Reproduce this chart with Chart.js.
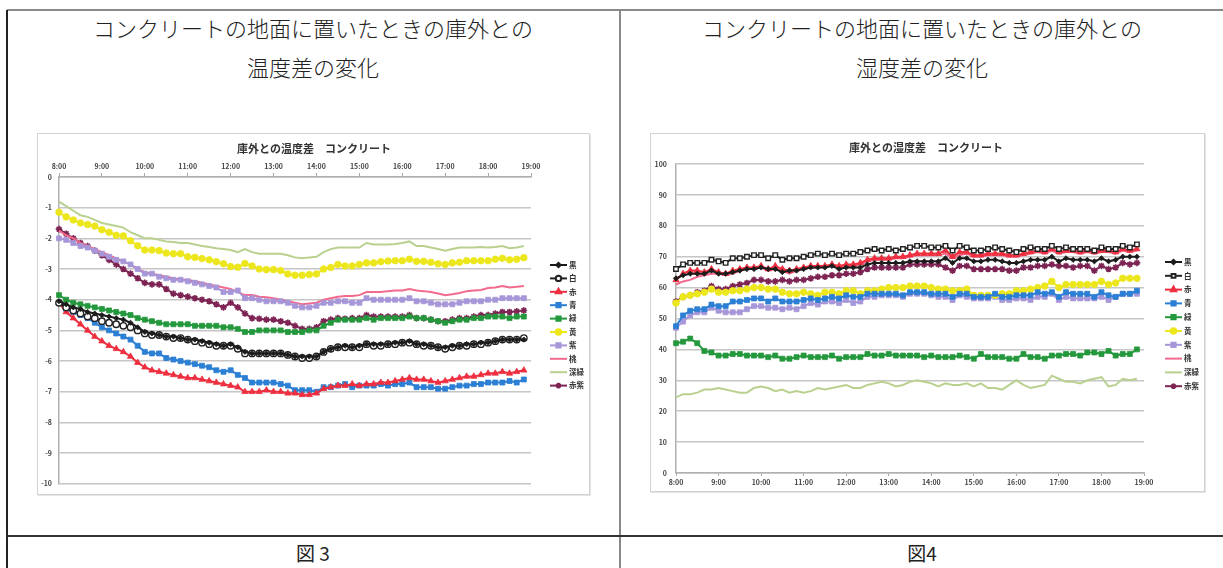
<!DOCTYPE html>
<html><head><meta charset="utf-8">
<script src="https://cdn.jsdelivr.net/npm/chart.js@4/dist/chart.umd.min.js"></script>
<style>
html,body{margin:0;padding:0;background:#fff;}
body{width:1223px;height:568px;position:relative;overflow:hidden;font-family:"Noto Sans CJK JP","Noto Sans",sans-serif;}
.ln{position:absolute;}
.hd{position:absolute;text-align:center;font-size:22px;font-weight:300;color:#222;line-height:1;}
.cap{position:absolute;text-align:center;font-size:19px;color:#222;line-height:1;}
.box{position:absolute;border:1.5px solid #d2d2d2;box-shadow:1px 1px 0 #e4e4e4;box-sizing:border-box;}
canvas{position:absolute;}
</style></head><body>
<div class="ln" style="left:7px;top:9px;width:1216px;height:2px;background:#8a8a8a"></div>
<div class="ln" style="left:6px;top:10px;width:2px;height:558px;background:#222"></div>
<div class="ln" style="left:619px;top:10px;width:2px;height:558px;background:#8a8a8a"></div>
<div class="ln" style="left:7px;top:535px;width:1216px;height:2px;background:#333"></div>

<div class="hd" style="left:7px;width:612px;top:16px">コンクリートの地面に置いたときの庫外との</div>
<div class="hd" style="left:7px;width:612px;top:55px">温度差の変化</div>
<div class="hd" style="left:621px;width:602px;top:16px">コンクリートの地面に置いたときの庫外との</div>
<div class="hd" style="left:621px;width:602px;top:55px">湿度差の変化</div>
<div class="cap" style="left:7px;width:612px;top:543px">図 3</div>
<div class="cap" style="left:621px;width:602px;top:543px">図4</div>

<div class="box" style="left:37px;top:133px;width:553px;height:362px"></div>
<div class="box" style="left:650px;top:133px;width:555px;height:359px"></div>
<canvas id="c1" width="553" height="362" style="left:37px;top:133px"></canvas>
<canvas id="c2" width="555" height="359" style="left:650px;top:133px"></canvas>

<script>
// ---------- data ----------
const times = ["8:00","8:10","8:20","8:30","8:40","8:50","9:00","9:10","9:20","9:30","9:40","9:50",
"10:00","10:10","10:20","10:30","10:40","10:50","11:00","11:10","11:20","11:30","11:40","11:50",
"12:00","12:10","12:20","12:30","12:40","12:50","13:00","13:10","13:20","13:30","13:40","13:50",
"14:00","14:10","14:20","14:30","14:40","14:50","15:00","15:10","15:20","15:30","15:40","15:50",
"16:00","16:10","16:20","16:30","16:40","16:50","17:00","17:10","17:20","17:30","17:40","17:50",
"18:00","18:10","18:20","18:30","18:40","18:50","19:00"];
const seriesNames = ["黒","白","赤","青","緑","黄","紫","桃","深緑","赤紫"];
const title1 = "庫外との温度差　コンクリート";
const title2 = "庫外との湿度差　コンクリート";
const yTicks1 = [0,-1,-2,-3,-4,-5,-6,-7,-8,-9,-10];
const yTicks2 = [0,10,20,30,40,50,60,70,80,90,100];

// temperature difference (chart 1)
const tKuro = [-4.05,-4.15,-4.25,-4.3,-4.4,-4.45, -4.5,-4.55,-4.6,-4.65,-4.75,-4.9, -5.05,-5.1,-5.15,-5.2,-5.2,-5.25,
 -5.3,-5.3,-5.35,-5.4,-5.45,-5.5, -5.45,-5.55,-5.7,-5.75,-5.75,-5.75, -5.75,-5.75,-5.8,-5.85,-5.85,-5.85,
 -5.85,-5.7,-5.6,-5.55,-5.5,-5.55, -5.5,-5.45,-5.45,-5.45,-5.45,-5.4, -5.4,-5.35,-5.45,-5.45,-5.5,-5.55,
 -5.55,-5.5,-5.5,-5.45,-5.45,-5.4, -5.4,-5.35,-5.3,-5.3,-5.3,-5.3];
const tShiro = [-4.1,-4.25,-4.35,-4.45,-4.55,-4.6, -4.7,-4.75,-4.8,-4.85,-4.9,-5.0, -5.1,-5.15,-5.15,-5.2,-5.25,-5.25,
 -5.3,-5.35,-5.4,-5.45,-5.5,-5.5, -5.5,-5.6,-5.75,-5.75,-5.75,-5.75, -5.75,-5.75,-5.8,-5.85,-5.9,-5.9,
 -5.85,-5.7,-5.6,-5.55,-5.55,-5.55, -5.55,-5.45,-5.5,-5.5,-5.45,-5.45, -5.4,-5.4,-5.45,-5.5,-5.5,-5.55,
 -5.6,-5.55,-5.5,-5.5,-5.45,-5.45, -5.4,-5.35,-5.3,-5.3,-5.3,-5.25];
const tAka = [-4.1,-4.4,-4.6,-4.8,-5.0,-5.2, -5.35,-5.5,-5.6,-5.7,-5.85,-6.05, -6.2,-6.3,-6.35,-6.4,-6.45,-6.5,
 -6.55,-6.55,-6.6,-6.65,-6.7,-6.75, -6.8,-6.85,-7.0,-7.0,-7.0,-6.95, -7.0,-7.0,-7.05,-7.05,-7.1,-7.1,
 -7.05,-6.9,-6.85,-6.8,-6.8,-6.75, -6.8,-6.75,-6.75,-6.7,-6.7,-6.65, -6.6,-6.55,-6.6,-6.6,-6.65,-6.7,
 -6.65,-6.6,-6.55,-6.5,-6.5,-6.45, -6.4,-6.4,-6.35,-6.4,-6.35,-6.3];
const tAo = [-4.1,-4.3,-4.4,-4.5,-4.6,-4.75, -4.9,-5.0,-5.1,-5.2,-5.3,-5.5, -5.7,-5.75,-5.75,-5.9,-5.95,-6.0,
 -6.05,-6.1,-6.15,-6.2,-6.3,-6.35, -6.3,-6.45,-6.55,-6.7,-6.7,-6.7, -6.7,-6.75,-6.8,-6.95,-6.95,-6.95,
 -7.0,-6.85,-6.85,-6.8,-6.75,-6.85, -6.8,-6.8,-6.8,-6.75,-6.8,-6.75, -6.75,-6.7,-6.85,-6.85,-6.85,-6.9,
 -6.9,-6.85,-6.8,-6.8,-6.75,-6.75, -6.7,-6.7,-6.7,-6.65,-6.7,-6.6];
const tMidori = [-3.85,-4.0,-4.1,-4.15,-4.2,-4.25, -4.3,-4.35,-4.4,-4.45,-4.5,-4.6, -4.65,-4.7,-4.75,-4.8,-4.8,-4.8,
 -4.8,-4.85,-4.85,-4.85,-4.85,-4.9, -4.9,-4.95,-5.05,-5.05,-5.0,-5.0, -5.0,-5.0,-5.05,-5.05,-5.05,-5.0,
 -5.0,-4.85,-4.75,-4.65,-4.65,-4.65, -4.65,-4.6,-4.65,-4.6,-4.6,-4.6, -4.6,-4.55,-4.6,-4.6,-4.65,-4.7,
 -4.75,-4.7,-4.65,-4.65,-4.6,-4.6, -4.55,-4.55,-4.55,-4.6,-4.55,-4.55];
const tKi = [-1.15,-1.3,-1.4,-1.5,-1.55,-1.6, -1.72,-1.8,-1.9,-1.92,-2.08,-2.24, -2.38,-2.38,-2.4,-2.48,-2.5,-2.5,
 -2.6,-2.62,-2.66,-2.7,-2.76,-2.83, -2.92,-2.94,-2.82,-2.9,-3.0,-3.02, -3.02,-3.05,-3.16,-3.2,-3.2,-3.18,
 -3.16,-3.0,-2.95,-2.85,-2.9,-2.9, -2.85,-2.8,-2.8,-2.76,-2.74,-2.73, -2.73,-2.68,-2.75,-2.75,-2.78,-2.83,
 -2.85,-2.8,-2.78,-2.73,-2.73,-2.73, -2.73,-2.68,-2.65,-2.7,-2.68,-2.63];
const tMurasaki = [-2.0,-2.05,-2.15,-2.25,-2.3,-2.4, -2.5,-2.6,-2.7,-2.75,-2.85,-3.0, -3.15,-3.15,-3.25,-3.3,-3.35,-3.35,
 -3.4,-3.45,-3.5,-3.55,-3.6,-3.75, -3.75,-3.7,-3.95,-3.95,-4.0,-4.05, -4.05,-4.05,-4.1,-4.2,-4.25,-4.25,
 -4.2,-4.1,-4.1,-4.05,-4.05,-4.1, -4.1,-3.95,-4.0,-4.0,-4.0,-4.0, -4.0,-3.95,-4.05,-4.05,-4.1,-4.15,
 -4.15,-4.15,-4.1,-4.05,-4.05,-4.05, -4.0,-4.0,-3.95,-3.95,-3.95,-3.95];
const tMomo = [-1.75,-1.9,-2.0,-2.15,-2.25,-2.35, -2.45,-2.55,-2.65,-2.75,-2.85,-3.0, -3.1,-3.15,-3.2,-3.25,-3.3,-3.35,
 -3.35,-3.4,-3.45,-3.5,-3.55,-3.6, -3.65,-3.75,-3.85,-3.85,-3.9,-3.92, -3.95,-4.0,-4.05,-4.1,-4.15,-4.12,
 -4.1,-4.0,-3.95,-3.9,-3.88,-3.88, -3.85,-3.75,-3.75,-3.75,-3.72,-3.7, -3.7,-3.65,-3.7,-3.72,-3.75,-3.8,
 -3.85,-3.82,-3.78,-3.72,-3.7,-3.68, -3.62,-3.6,-3.55,-3.6,-3.58,-3.55];
const tFukamidori = [-0.8,-0.95,-1.1,-1.25,-1.3,-1.4, -1.5,-1.55,-1.6,-1.65,-1.8,-1.9, -2.0,-2.0,-2.05,-2.1,-2.12,-2.15,
 -2.15,-2.2,-2.25,-2.28,-2.32,-2.35, -2.38,-2.45,-2.35,-2.45,-2.5,-2.5, -2.5,-2.5,-2.55,-2.62,-2.65,-2.62,
 -2.6,-2.45,-2.35,-2.3,-2.3,-2.3, -2.3,-2.15,-2.2,-2.2,-2.2,-2.18, -2.15,-2.1,-2.25,-2.25,-2.3,-2.35,
 -2.4,-2.35,-2.3,-2.3,-2.3,-2.28, -2.3,-2.28,-2.25,-2.32,-2.3,-2.25];
const tAkamurasaki = [-1.7,-1.85,-2.0,-2.15,-2.25,-2.4, -2.55,-2.7,-2.85,-3.0,-3.15,-3.3, -3.45,-3.5,-3.5,-3.65,-3.8,-3.85,
 -3.9,-3.95,-4.0,-4.05,-4.15,-4.25, -4.1,-4.25,-4.45,-4.6,-4.62,-4.65, -4.65,-4.7,-4.75,-4.85,-4.95,-4.95,
 -4.9,-4.7,-4.65,-4.6,-4.62,-4.6, -4.6,-4.5,-4.55,-4.55,-4.55,-4.55, -4.55,-4.5,-4.6,-4.6,-4.65,-4.7,
 -4.7,-4.65,-4.6,-4.6,-4.55,-4.5, -4.5,-4.45,-4.4,-4.4,-4.38,-4.35];

// humidity difference (chart 2)
const hKuro = [63,64,64.5,64.5,64.5,65.5, 64.5,64.5,65,65.5,66,66, 66.5,66,66,65,65.5,65.5, 66,66.5,66.5,66.5,67,66,
 66.5,66.5,66.5,67.5,68,68, 68,68,68,68.5,68.5,68.5, 68.5,68.5,69.5,68,69.5,69.5, 68.5,68.5,69,69,68.5,68,
 68,68.5,69,69,69,70, 68.5,69.5,69,69,69,68.5, 69.5,68.5,69,70,70,70];
const hShiro = [66,67.5,68,68,68,69, 68.5,68,69.5,69.5,70,70.5, 70.5,69.5,70.5,69,69.5,69.5, 70,70.5,71,70.5,71,70.5,
 71,71,71.5,72,72.5,72, 72.5,72,72.5,73,73.5,73.5, 73,73,73.5,72,73.5,73, 72,72,72.5,73,72.5,72,
 71.5,72.5,73,72.5,72.5,73.5, 72.5,73,72.5,72.5,72.5,72, 73,72.5,72.5,73.5,73,74];
const hAka = [62.5,64.5,65.5,65.5,65,66, 65,64.5,65.5,66,66.5,66.5, 67,66,67,66,65.5,66, 66.5,67,67,67,67.5,67,
 67.5,67.5,68,69,69.5,69.5, 69.5,70,70,70.5,71,71, 71,71,72,70,71.5,71.5, 70.5,70.5,71,71,71,70.5,
 70.5,71,71.5,72,71.5,72.5, 71.5,72,72,71.5,72,71.5, 72,72,71.5,72.5,72,72.5];
const hAo = [47.5,51,52.5,53,53,54.5, 54,54,55.5,55.5,56,56.5, 56.5,55.5,56.5,55.5,55.5,55.5, 56,56.5,56,56.5,57,56.5,
 57.5,57,57,58,58,58, 58,58,57.5,58.5,58.5,58.5, 58,58,58,57,58,58, 57,57,57,58,57,57,
 57.5,57.5,57.5,58.5,58,58.5, 57,58.5,58,58,58,57, 58.5,57.5,57,58,58,59];
const hMidori = [42,42.5,43.5,42,39.5,39, 38,38,38.5,38.5,38,38, 38,37.5,38,37,37,37.5, 38,37.5,37.5,37.5,38,37,
 37.5,37.5,37.5,38.5,38,38, 38.5,38,38,38,38,37.5, 38,37.5,37.5,37.5,38,37.5, 37,38.5,37.5,37.5,37.5,37,
 37,38.5,37.5,37.5,37,38, 38,38.5,38.5,38,39,39, 38.5,39.5,38,38.5,38.5,40];
const hKi = [55,57,57.5,58,58.5,59.5, 58.5,58.5,59,59,59.5,60, 60,59.5,59.5,58.5,58,58, 58.5,58,57.5,58.5,58.5,58,
 59,59,58,59,59,59.5, 60,60,60,60.5,60.5,60.5, 60,59.5,59.5,59,59,59.5, 57.5,57.5,57.5,57.5,58,58,
 59,59,59.5,60,60.5,62, 60,61,61,61,61,61, 62,61,61.5,63,63,63];
const hMurasaki = [47,49,51,52,52,53.5, 52.5,52,52,52,53,54, 54,53.5,53.5,53,53.5,53, 54,55,54.5,55.5,55.5,55,
 56,55,55.5,57,57,57.5, 57.5,57.5,57,58,58,58, 57.5,57,57,56,57.5,57, 56.5,56.5,56.5,57,56,56,
 56.5,56.5,56,57,57,58, 56,57,56.5,56.5,56.5,56.5, 57,56,57,58,58,58];
const hMomo = [61,62,62.5,63.5,64,64.5, 64.5,64,64.5,65.5,66,66, 66.5,65.5,66,65.5,64.5,65.5, 66,66.5,66.5,67,67,66.5,
 67,67,67.5,68.5,69,69, 69,69.5,69.5,70,70.5,70.5, 70.5,70.5,71,69.5,70.5,71, 70,70,70.5,70.5,70.5,70,
 70,70.5,71,71.5,71,72, 71,71.5,71.5,71,71.5,71, 71.5,71.5,71,72,71.5,72];
const hFukamidori = [24.5,25.5,25.5,26,27,27, 27.5,27,26.5,26,26,27.5, 28,27.5,26.5,27,26,26.5, 26,26.5,27.5,27,27.5,28,
 28.5,27.5,27.5,28.5,29,29.5, 29,28,28.5,29.5,30,29.5, 29,28,29,28.5,28.5,29, 28,29,27.5,27.5,27,28.5,
 30,28.5,27.5,28,28.5,31.5, 30.5,29.5,29.5,29,30,30.5, 31,28,28.5,30.5,30,30.5];
const hAkamurasaki = [55.5,57,57.5,58.5,59,60.5, 59.5,59.5,60.5,61,61.5,62.5, 62.5,62,62,62.5,62,62.5, 62.5,63,63.5,63.5,64,64,
 64.5,64.5,65,66,66.5,66.5, 66.5,66.5,66.5,67.5,67.5,67.5, 67.5,67.5,66.5,65.5,67,67, 66,66,66,66,66,65.5,
 65.5,66.5,66.5,67,67,67.5, 67,67,66.5,67,67,65.5, 67,66,66.5,68,67.5,68];

// ---------- styles ----------
const FONT = '"Noto Sans CJK JP","Noto Sans",sans-serif';
const styles = [
 {c:'#1c1c1c', bg:'#1c1c1c', ps:'rectRot', r:2.6},
 {c:'#222222', bg:'#ffffff', ps:null, r:3.2},
 {c:'#ee2f3f', bg:'#ee2f3f', ps:'triangle', r:3.6},
 {c:'#2b7fd4', bg:'#2b7fd4', ps:'rect', r:3.5},
 {c:'#24983c', bg:'#24983c', ps:'rect', r:3.5},
 {c:'#ece61c', bg:'#ece61c', ps:'circle', r:3.3},
 {c:'#a797d9', bg:'#a797d9', ps:'rect', r:3.5},
 {c:'#f26a8c', bg:'#f26a8c', ps:'circle', r:0},
 {c:'#b9d18e', bg:'#b9d18e', ps:'circle', r:0},
 {c:'#7d2454', bg:'#7d2454', ps:'star', r:3.3}
];

function makeSets(arrs, whiteStyle){
  return arrs.map((d,i)=>{
    const s = styles[i];
    const ps = s.ps || whiteStyle;
    return {label: seriesNames[i], data: d, borderColor: s.c, backgroundColor: s.bg,
      borderWidth: 2, pointStyle: ps, pointRadius: s.r, pointBorderWidth: (i===1?1.4:(ps==='star'?1.6:0.8)),
      pointBackgroundColor: s.bg, pointBorderColor: s.c, tension: 0, spanGaps:false};
  });
}

function legendTitlePlugin(cfg){
  return {
    id:'excelDeco',
    afterDraw(chart){
      const ctx = chart.ctx;
      ctx.save();
      ctx.fillStyle = '#333';
      ctx.font = 'bold 11px ' + FONT;
      ctx.textAlign = 'center'; ctx.textBaseline = 'middle';
      ctx.fillText(cfg.title, cfg.tx, cfg.ty);
      chart.data.datasets.forEach((ds,i)=>{
        const y = cfg.ly + i*cfg.lstep;
        ctx.strokeStyle = ds.borderColor; ctx.lineWidth = 2;
        ctx.beginPath(); ctx.moveTo(cfg.lx, y); ctx.lineTo(cfg.lx+17, y); ctx.stroke();
        if (ds.pointRadius > 0) {
          ctx.fillStyle = ds.pointBackgroundColor; ctx.strokeStyle = ds.pointBorderColor;
          Chart.helpers.drawPoint(ctx, {pointStyle: ds.pointStyle, radius: ds.pointRadius*0.85, rotation:0, borderWidth: ds.pointBorderWidth}, cfg.lx+8.5, y);
        }
        ctx.fillStyle = '#333'; ctx.font = 'bold 7.5px ' + FONT;
        ctx.textAlign='left'; ctx.textBaseline='middle';
        ctx.fillText(ds.label, cfg.lx+19, y);
      });
      ctx.restore();
    }
  };
}

function xTickColor(c){ const t = times[c.index]; return (t && t.endsWith(':00')) ? '#a8a8a8' : 'rgba(0,0,0,0)'; }

// ---------- chart 1 ----------
new Chart(document.getElementById('c1'), {
  type:'line',
  data:{labels: times, datasets: makeSets([tKuro,tShiro,tAka,tAo,tMidori,tKi,tMurasaki,tMomo,tFukamidori,tAkamurasaki],'circle')},
  options:{
    responsive:false, animation:false, devicePixelRatio:1,
    layout:{padding:{left:0,top:0,right:59,bottom:7}},
    plugins:{legend:{display:false}, title:{display:false}, tooltip:{enabled:false}},
    scales:{
      x:{type:'category', position:'top', offset:false,
        grid:{drawOnChartArea:false, drawTicks:true, tickLength:4, color:xTickColor, lineWidth:1},
        border:{display:true, color:'#b0b0b0', width:1.5},
        ticks:{autoSkip:false, maxRotation:0, minRotation:0, padding:2, color:'#444', font:{size:7, family:FONT, weight:'bold'},
          callback:(v,i)=> times[i].endsWith(':00') ? times[i] : ''},
        afterFit:s=>{s.height=44;}},
      y:{min:-10, max:0, afterBuildTicks:s=>{s.ticks = yTicks1.map(v=>({value:v}));},
        grid:{color:'#c6c6c6', lineWidth:1.5, drawTicks:false},
        border:{display:true, color:'#b0b0b0', width:1.5},
        ticks:{padding:7, color:'#444', font:{size:7, family:FONT, weight:'bold'}},
        afterFit:s=>{s.width=22;}}
    }
  },
  plugins:[legendTitlePlugin({title:title1, tx:277, ty:16, lx:513, ly:132, lstep:13.4})]
});

// ---------- chart 2 ----------
new Chart(document.getElementById('c2'), {
  type:'line',
  data:{labels: times, datasets: makeSets([hKuro,hShiro,hAka,hAo,hMidori,hKi,hMurasaki,hMomo,hFukamidori,hAkamurasaki],'rect')},
  options:{
    responsive:false, animation:false, devicePixelRatio:1,
    layout:{padding:{left:0,top:31,right:61,bottom:0}},
    plugins:{legend:{display:false}, title:{display:false}, tooltip:{enabled:false}},
    scales:{
      x:{type:'category', position:'bottom', offset:false,
        grid:{drawOnChartArea:false, drawTicks:true, tickLength:3, color:xTickColor, lineWidth:1},
        border:{display:true, color:'#b0b0b0', width:1.5},
        ticks:{autoSkip:false, maxRotation:0, minRotation:0, padding:2, color:'#444', font:{size:7, family:FONT, weight:'bold'},
          callback:(v,i)=> times[i].endsWith(':00') ? times[i] : ''},
        afterFit:s=>{s.height=19;}},
      y:{min:0, max:100, afterBuildTicks:s=>{s.ticks = yTicks2.map(v=>({value:v}));},
        grid:{color:'#c6c6c6', lineWidth:1.5, drawTicks:false},
        border:{display:true, color:'#b0b0b0', width:1.5},
        ticks:{padding:9, color:'#444', font:{size:7, family:FONT, weight:'bold'}},
        afterFit:s=>{s.width=26;}}
    }
  },
  plugins:[legendTitlePlugin({title:title2, tx:276, ty:15, lx:515, ly:129, lstep:13.8})]
});
</script>
</body></html>
